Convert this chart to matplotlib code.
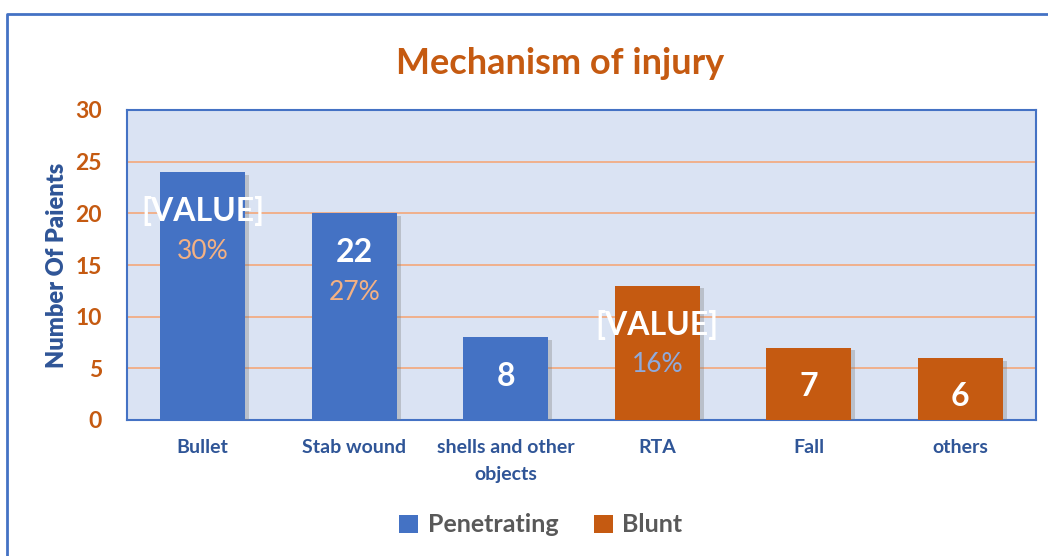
import matplotlib
matplotlib.use("Agg")
import matplotlib.pyplot as plt
import matplotlib.patheffects as pe
from matplotlib.lines import Line2D
from matplotlib.patches import Patch

categories = ["Bullet", "Stab wound", "shells and other\nobjects", "RTA", "Fall", "others"]
values = [24, 20, 8, 13, 7, 6]
groups = ["Penetrating", "Penetrating", "Penetrating", "Blunt", "Blunt", "Blunt"]
value_labels = ["[VALUE]", "22", "8", "[VALUE]", "7", "6"]
pct_labels = ["30%", "27%", "", "16%", "", ""]
yticks = [0, 5, 10, 15, 20, 25, 30]

colors = {"Penetrating": "#4472c4", "Blunt": "#c55a11"}
pct_colors = {"Penetrating": "#f4b183", "Blunt": "#8faadc"}

plt.rcParams['font.family'] = ['Lato', 'DejaVu Sans']

fig = plt.figure(figsize=(10.48, 5.56), dpi=100)
ax = fig.add_axes([127/1048, 1-420/556, (1036-127)/1048, (420-110)/556])
ax.set_facecolor("#dae3f3")

shadow = [pe.SimplePatchShadow(offset=(3, -2), shadow_rgbFace="#7f7f7f", alpha=0.35), pe.Normal()]
x = list(range(len(categories)))
for grp in ["Penetrating", "Blunt"]:
    xs = [i for i in x if groups[i] == grp]
    vs = [values[i] for i in xs]
    bars = ax.bar(xs, vs, width=0.56, color=colors[grp], zorder=3)
    for b in bars:
        b.set_path_effects(shadow)

for i in x:
    ax.annotate(value_labels[i], (i, values[i]), xytext=(0, -28), textcoords="offset points",
                ha="center", va="center", color="white", fontsize=23, fontweight="bold", zorder=5)
    if pct_labels[i]:
        ax.annotate(pct_labels[i], (i, values[i]), xytext=(0, -57), textcoords="offset points",
                    ha="center", va="center", color=pct_colors[groups[i]], fontsize=19, zorder=5)

ax.set_ylim(0, 30)
ax.set_xlim(-0.5, len(categories) - 0.5)
ax.set_yticks(yticks)
ax.set_yticklabels([str(t) for t in yticks], color="#c55a11", fontsize=16.5, fontweight="bold")
ax.set_xticks(x)
ax.set_xticklabels(categories, color="#2f5597", fontsize=14, fontweight="bold", linespacing=1.65)
ax.tick_params(axis="both", length=0)
ax.tick_params(axis="y", pad=18)
ax.tick_params(axis="x", pad=14)
ax.yaxis.grid(True, color="#f4a77a", linewidth=1.2, zorder=0)
ax.set_axisbelow(True)
for s in ax.spines.values():
    s.set_color("#4472c4")
    s.set_linewidth(1.5)

ax.set_ylabel("Number Of Paients", color="#2f5597", fontsize=17, fontweight="heavy", labelpad=5)
fig.text(560/1048, 1-64/556, "Mechanism of injury", ha="center", va="center",
         color="#c55a11", fontsize=26, fontweight="bold")

handles = [Patch(facecolor=colors[g], label=g) for g in ["Penetrating", "Blunt"]]
leg = fig.legend(handles=handles, loc="center", bbox_to_anchor=(541/1048, 1-525/556),
                 ncol=2, frameon=False, handlelength=0.75, handleheight=0.75, handletextpad=0.4,
                 columnspacing=1.4, prop={"size": 18, "weight": "bold"})
for t in leg.get_texts():
    t.set_color("#595959")

fig.add_artist(Line2D([7/1048, 7/1048, 1], [0, 1-14/556, 1-14/556], transform=fig.transFigure,
                      color="#4472c4", linewidth=2))

fig.savefig("out.png", dpi=100)
